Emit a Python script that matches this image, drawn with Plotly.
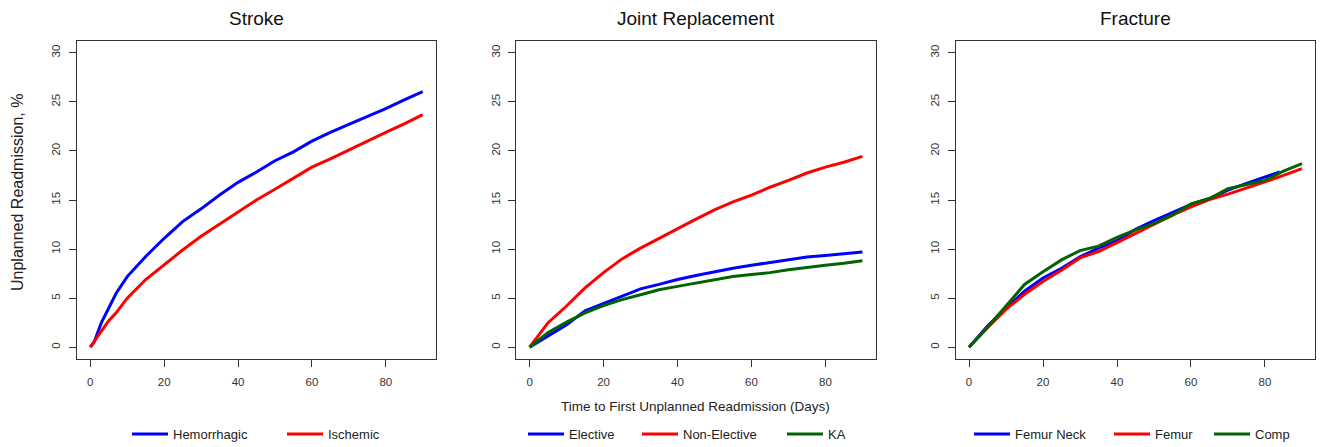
import plotly.graph_objects as go

# ---------------- data ----------------
days = [0, 5, 10, 15, 20, 25, 30, 35, 40, 45, 50, 55, 60, 65, 70, 75, 80, 85, 90]

stroke_days = [0, 1, 2, 3, 5, 7, 10, 15, 20, 25, 30, 35, 40, 45, 50, 55, 60, 65, 70, 75, 80, 85, 90]
hemorrhagic = [0, 0.5, 1.5, 2.5, 4.0, 5.5, 7.2, 9.25, 11.1, 12.8, 14.1, 15.5, 16.8, 17.85, 19.0, 19.9,
               21.0, 21.9, 22.7, 23.5, 24.3, 25.2, 26.05]
ischemic = [0, 0.5, 1.1, 1.65, 2.7, 3.5, 5.0, 6.9, 8.4, 9.9, 11.3, 12.55, 13.8, 15.0, 16.1, 17.2,
            18.35, 19.2, 20.1, 21.05, 21.9, 22.75, 23.7]

elective = [0, 1.15, 2.3, 3.7, 4.45, 5.2, 5.95, 6.4, 6.9, 7.3, 7.7, 8.05, 8.35, 8.65, 8.9, 9.2, 9.35, 9.5, 9.7]
non_elective = [0, 2.5, 4.2, 6.05, 7.6, 9.0, 10.1, 11.1, 12.1, 13.05, 14.0, 14.8, 15.5, 16.3, 17.0, 17.75,
                18.35, 18.85, 19.45]
ka = [0, 1.5, 2.55, 3.5, 4.25, 4.85, 5.35, 5.85, 6.2, 6.55, 6.9, 7.2, 7.4, 7.6, 7.9, 8.15, 8.35, 8.55, 8.8]

femur_neck_days = [0, 5, 10, 15, 20, 25, 30, 35, 40, 45, 50, 55, 60, 65, 70, 75, 80, 84]
femur_neck = [0, 2.15, 4.0, 5.7, 7.05, 8.05, 9.2, 10.1, 10.85, 12.0, 12.9, 13.7, 14.55, 15.15, 16.0, 16.7,
              17.3, 17.85]
femur = [0, 2.0, 3.85, 5.4, 6.7, 7.85, 9.1, 9.75, 10.65, 11.6, 12.55, 13.45, 14.3, 15.05, 15.6, 16.2,
         16.85, 17.5, 18.2]
comp = [0, 2.0, 4.2, 6.4, 7.7, 8.9, 9.85, 10.3, 11.2, 11.95, 12.6, 13.45, 14.6, 15.15, 16.15, 16.6,
        17.0, 17.95, 18.7]

panel_titles = ["Stroke", "Joint Replacement", "Fracture"]
x_ticks = [0, 20, 40, 60, 80]
y_ticks = [0, 5, 10, 15, 20, 25, 30]
x_title = "Time to First Unplanned Readmission (Days)"
y_title = "Unplanned Readmission, %"

BLUE, RED, GREEN = "#0000FF", "#FF0000", "#006400"

series = [
    # (panel, name, x, y, color)
    (1, "Hemorrhagic", stroke_days, hemorrhagic, BLUE),
    (1, "Ischemic", stroke_days, ischemic, RED),
    (2, "Elective", days, elective, BLUE),
    (2, "Non-Elective", days, non_elective, RED),
    (2, "KA", days, ka, GREEN),
    (3, "Femur Neck", femur_neck_days, femur_neck, BLUE),
    (3, "Femur", days, femur, RED),
    (3, "Comp", days, comp, GREEN),
]

# ---------------- layout geometry ----------------
W, H = 1324, 447
OFF = 8  # default page body margin of the html page
panels_px = [(77, 436), (516.3, 875.7), (955.7, 1315.3)]
top_px, bot_px = 41, 359
legend_line_px = [132, 287, 528, 642, 787, 974, 1114, 1214]
legend_y_px = 434


def px_x(v):
    return (v - OFF) / W


def px_y(v):
    return 1 - (v - OFF) / H


FONT = "Liberation Sans, Arial, sans-serif"
AX = "#333333"

fig = go.Figure()
for i, (p, name, x, y, c) in enumerate(series):
    sfx = "" if p == 1 else str(p)
    lg = "legend" if i == 0 else f"legend{i+1}"
    fig.add_trace(go.Scatter(
        x=x, y=y, mode="lines", name=name,
        line=dict(color=c, width=3),
        xaxis="x" + sfx, yaxis="y" + sfx,
        legend=lg, showlegend=True,
    ))

layout = dict(
    width=W, height=H,
    margin=dict(l=0, r=0, t=0, b=0),
    paper_bgcolor="white", plot_bgcolor="white",
    font=dict(family=FONT, color="#222222"),
    annotations=[],
)

for k, (x0, x1) in enumerate(panels_px):
    sfx = "" if k == 0 else str(k + 1)
    ax_common = dict(
        showgrid=False, zeroline=False, showline=True, mirror=True,
        linecolor=AX, linewidth=1, ticks="outside", ticklen=7, tickcolor=AX,
        tickfont=dict(size=11.5, color="#333333", family=FONT),
    )
    layout["xaxis" + sfx] = dict(
        domain=[px_x(x0), px_x(x1)], anchor="y" + sfx,
        range=[-3.6, 93.6], tickvals=x_ticks, ticklabelstandoff=5, **ax_common,
    )
    layout["yaxis" + sfx] = dict(
        domain=[px_y(bot_px), px_y(top_px)], anchor="x" + sfx,
        range=[-1.2, 31.2], tickvals=y_ticks, tickangle=-90, ticklabelstandoff=4,
        **ax_common,
    )
    layout["annotations"].append(dict(
        text=panel_titles[k], x=px_x((x0 + x1) / 2), y=px_y(18),
        xref="paper", yref="paper", xanchor="center", yanchor="middle",
        showarrow=False, font=dict(size=19, color="#111111", family=FONT),
    ))

layout["annotations"].append(dict(
    text=x_title, x=px_x(695), y=px_y(406), xref="paper", yref="paper",
    xanchor="center", yanchor="middle", showarrow=False,
    font=dict(size=13.5, color="#222222", family=FONT),
))
layout["annotations"].append(dict(
    text=y_title, x=px_x(17), y=px_y(193), xref="paper", yref="paper",
    xanchor="center", yanchor="middle", showarrow=False, textangle=-90,
    font=dict(size=16, color="#222222", family=FONT),
))

for i, lx in enumerate(legend_line_px):
    key = "legend" if i == 0 else f"legend{i+1}"
    layout[key] = dict(
        x=px_x(lx - 5), y=px_y(legend_y_px), xanchor="left", yanchor="middle",
        orientation="h", bgcolor="rgba(0,0,0,0)", borderwidth=0,
        font=dict(size=13, color="#222222", family=FONT),
        itemwidth=36,
    )

fig.update_layout(**layout)
fig.write_html("out.html")
